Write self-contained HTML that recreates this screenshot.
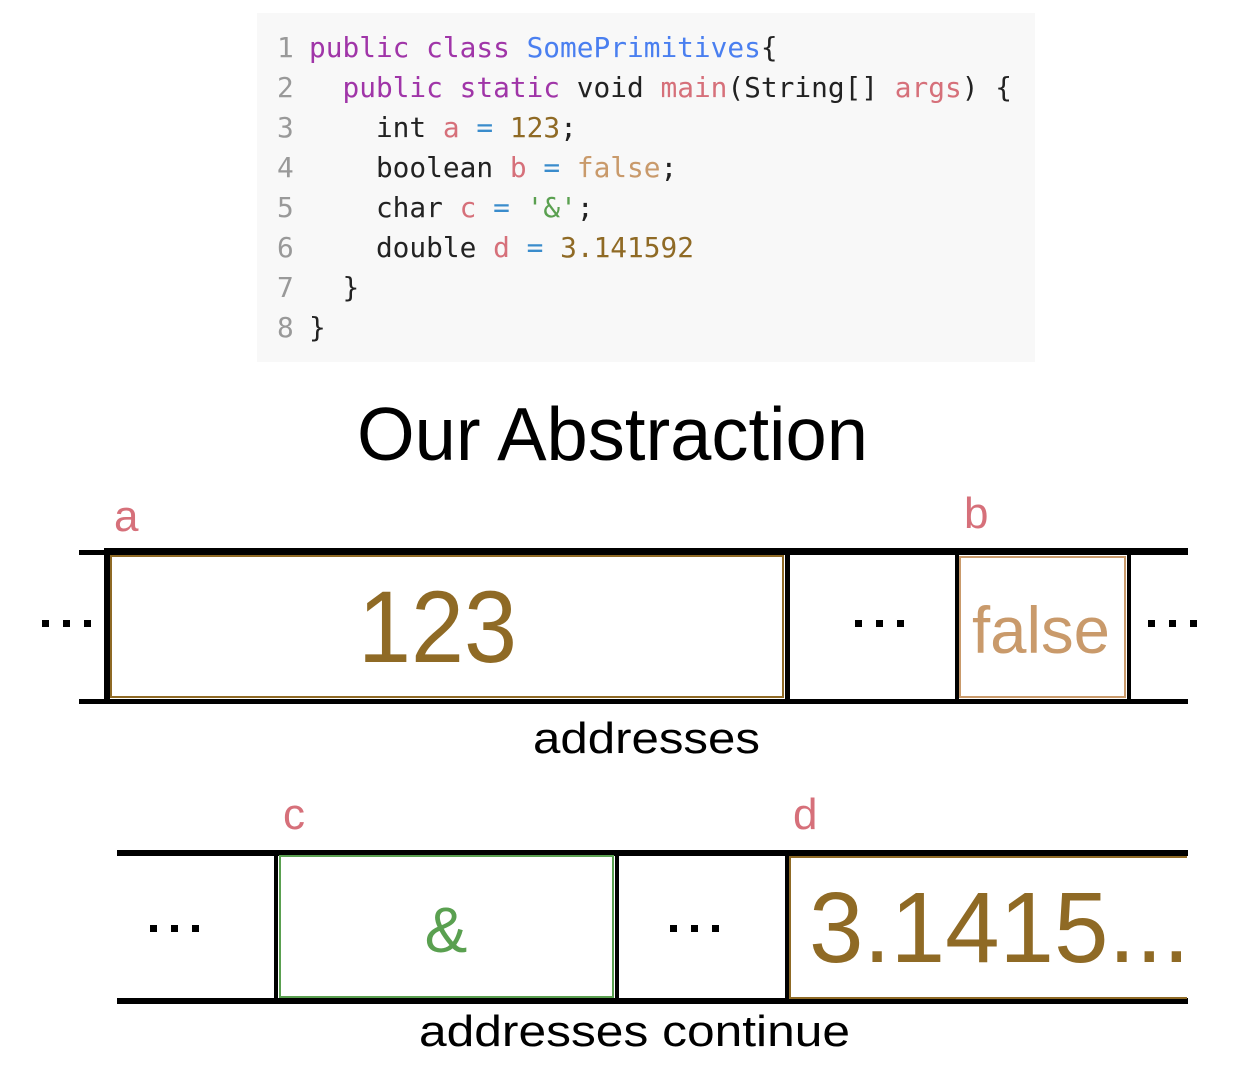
<!DOCTYPE html>
<html><head><meta charset="utf-8"><style>
html,body{margin:0;padding:0;background:#fff;width:1236px;height:1082px;overflow:hidden}
svg{display:block}
.code{font-family:"DejaVu Sans Mono","Liberation Mono",monospace;font-size:27.8px}
.s{font-family:"Liberation Sans",Arial,sans-serif}
</style></head><body>
<svg width="1236" height="1082" viewBox="0 0 1236 1082" xmlns="http://www.w3.org/2000/svg">
<rect x="257" y="13" width="778" height="349" fill="#f8f8f8"/>
<g class="code" fill="#222">
<text x="277" y="57" fill="#999">1</text>
<text x="277" y="97" fill="#999">2</text>
<text x="277" y="137" fill="#999">3</text>
<text x="277" y="177" fill="#999">4</text>
<text x="277" y="217" fill="#999">5</text>
<text x="277" y="257" fill="#999">6</text>
<text x="277" y="297" fill="#999">7</text>
<text x="277" y="337" fill="#999">8</text>
<text x="309" y="57" xml:space="preserve"><tspan fill="#a035a8">public class </tspan><tspan fill="#4a7ff0">SomePrimitives</tspan>{</text>
<text x="309" y="97" xml:space="preserve">  <tspan fill="#a035a8">public static</tspan> void <tspan fill="#d6707a">main</tspan>(String[] <tspan fill="#d6707a">args</tspan>) {</text>
<text x="309" y="137" xml:space="preserve">    int <tspan fill="#d6707a">a</tspan> <tspan fill="#3a8ccc">=</tspan> <tspan fill="#8f6a25">123</tspan>;</text>
<text x="309" y="177" xml:space="preserve">    boolean <tspan fill="#d6707a">b</tspan> <tspan fill="#3a8ccc">=</tspan> <tspan fill="#c99a6b">false</tspan>;</text>
<text x="309" y="217" xml:space="preserve">    char <tspan fill="#d6707a">c</tspan> <tspan fill="#3a8ccc">=</tspan> <tspan fill="#5aa050">'&amp;'</tspan>;</text>
<text x="309" y="257" xml:space="preserve">    double <tspan fill="#d6707a">d</tspan> <tspan fill="#3a8ccc">=</tspan> <tspan fill="#8f6a25">3.141592</tspan></text>
<text x="309" y="297" xml:space="preserve">  }</text>
<text x="309" y="337" xml:space="preserve">}</text>
</g>
<text class="s" x="357" y="460" font-size="75" textLength="511" lengthAdjust="spacingAndGlyphs">Our Abstraction</text>

<!-- row 1 -->
<text class="s" x="114" y="531" font-size="44" fill="#d6707a">a</text>
<text class="s" x="964" y="528" font-size="44" fill="#d6707a">b</text>
<rect x="79" y="550" width="27" height="5" fill="#000"/>
<rect x="104" y="548" width="1084" height="7" fill="#000"/>
<rect x="79" y="699" width="1109" height="5" fill="#000"/>
<rect x="104" y="548" width="6" height="156" fill="#000"/>
<rect x="785" y="552" width="5" height="150" fill="#000"/>
<rect x="955" y="552" width="4" height="150" fill="#000"/>
<rect x="1127" y="552" width="4" height="150" fill="#000"/>
<rect x="111" y="556" width="672" height="141" fill="none" stroke="#8f6a25" stroke-width="2"/>
<rect x="960" y="557" width="165" height="140" fill="none" stroke="#c99a6b" stroke-width="2"/>
<g fill="#000">
<rect x="42" y="620" width="7" height="7"/><rect x="63" y="620" width="7" height="7"/><rect x="84" y="620" width="7" height="7"/>
<rect x="855" y="620" width="7" height="7"/><rect x="876" y="620" width="7" height="7"/><rect x="897" y="620" width="7" height="7"/>
<rect x="1148" y="620" width="7" height="7"/><rect x="1169" y="620" width="7" height="7"/><rect x="1190" y="620" width="7" height="7"/>
</g>
<text class="s" x="358" y="662" font-size="102" fill="#8f6a25" textLength="159" lengthAdjust="spacingAndGlyphs">123</text>
<text class="s" x="972" y="653" font-size="66" fill="#c99a6b" textLength="138" lengthAdjust="spacingAndGlyphs">false</text>
<text class="s" x="533" y="753" font-size="44" textLength="227" lengthAdjust="spacingAndGlyphs">addresses</text>

<!-- row 2 -->
<text class="s" x="283" y="829" font-size="44" fill="#d6707a">c</text>
<text class="s" x="793" y="829" font-size="44" fill="#d6707a">d</text>
<rect x="117" y="850" width="1071" height="6" fill="#000"/>
<rect x="117" y="998" width="1071" height="6" fill="#000"/>
<rect x="274" y="852" width="4" height="150" fill="#000"/>
<rect x="615" y="852" width="4" height="150" fill="#000"/>
<rect x="785" y="852" width="4" height="150" fill="#000"/>
<rect x="280" y="856" width="333" height="141" fill="none" stroke="#5aa050" stroke-width="2"/>
<path d="M1187 857 H790 V998 H1187" fill="none" stroke="#8f6a25" stroke-width="2"/>
<g fill="#000">
<rect x="150" y="925" width="7" height="7"/><rect x="171" y="925" width="7" height="7"/><rect x="192" y="925" width="7" height="7"/>
<rect x="670" y="925" width="7" height="7"/><rect x="691" y="925" width="7" height="7"/><rect x="712" y="925" width="7" height="7"/>
</g>
<text class="s" x="446" y="952" font-size="64" fill="#5aa050" text-anchor="middle">&amp;</text>
<text class="s" x="809" y="962" font-size="100" fill="#8f6a25" textLength="381" lengthAdjust="spacingAndGlyphs">3.1415...</text>
<text class="s" x="419" y="1046" font-size="44" textLength="431" lengthAdjust="spacingAndGlyphs">addresses continue</text>
</svg>
</body></html>
